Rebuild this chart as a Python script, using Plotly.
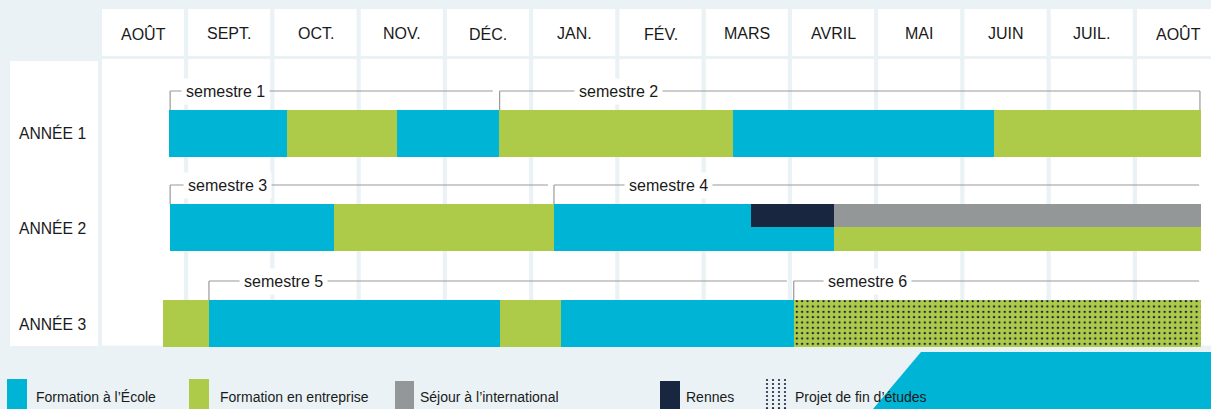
import plotly.graph_objects as go

# ---------------- data ----------------
months = ["AOÛT", "SEPT.", "OCT.", "NOV.", "DÉC.", "JAN.", "FÉV.", "MARS",
          "AVRIL", "MAI", "JUIN", "JUIL.", "AOÛT"]
years = ["ANNÉE 1", "ANNÉE 2", "ANNÉE 3"]
categories = ["Formation à l’École", "Formation en entreprise",
              "Séjour à l’international", "Rennes", "Projet de fin d’études"]

# segments, in months elapsed since 1st August (0 = start of the first AOÛT column)
seg_year = ["ANNÉE 1"] * 6 + ["ANNÉE 2"] * 7 + ["ANNÉE 3"] * 5
seg_cat = ["Formation à l’École", "Formation en entreprise", "Formation à l’École",
           "Formation en entreprise", "Formation à l’École", "Formation en entreprise",
           "Formation à l’École", "Formation en entreprise", "Formation à l’École",
           "Rennes", "Formation à l’École", "Séjour à l’international", "Formation en entreprise",
           "Formation en entreprise", "Formation à l’École", "Formation en entreprise",
           "Formation à l’École", "Projet de fin d’études"]
seg_start = [0.78, 2.15, 3.42, 4.60, 7.32, 10.34,
             0.79, 2.69, 5.24, 7.53, 7.53, 8.49, 8.49,
             0.71, 1.24, 4.61, 5.32, 8.02]
seg_end = [2.15, 3.42, 4.60, 7.32, 10.34, 12.74,
           2.69, 5.24, 7.53, 8.49, 8.49, 12.74, 12.74,
           1.24, 4.61, 5.32, 8.02, 12.74]
seg_lane = ["full"] * 6 + ["full", "full", "full", "top", "bottom", "top", "bottom"] + ["full"] * 5

sem_labels = ["semestre 1", "semestre 2", "semestre 3", "semestre 4", "semestre 5", "semestre 6"]
sem_year = ["ANNÉE 1", "ANNÉE 1", "ANNÉE 2", "ANNÉE 2", "ANNÉE 3", "ANNÉE 3"]
sem_start = [0.79, 4.61, 0.79, 5.24, 1.24, 8.02]
sem_end = [4.53, 12.73, 5.17, 12.72, 7.94, 12.72]
sem_text_x = [1.43, 5.99, 1.45, 6.57, 2.10, 8.87]
sem_closed = [False, True, False, False, False, False]

# ---------------- styling / layout ----------------
W, H = 1211, 409
BG = "#EAF2F5"
COLORS = {"Formation à l’École": "#00B4D5", "Formation en entreprise": "#AECA49",
          "Séjour à l’international": "#939797", "Rennes": "#182640",
          "Projet de fin d’études": "#AECA49"}
NAVY = "#182640"
TXT = "#1a1a1a"
FONT = "Liberation Sans, Arial, Helvetica, sans-serif"
X0PX, PITCH, CELL = 102.0, 86.25, 82.0
ROW_TOP = {"ANNÉE 1": 110.0, "ANNÉE 2": 204.0, "ANNÉE 3": 300.0}
ROW_LABEL_Y = {"ANNÉE 1": 132.5, "ANNÉE 2": 228, "ANNÉE 3": 324}
BAR_H = 46.7
LINE = "#9a9a9a"

fig = go.Figure()

# bars
for cat in categories:
    base, length, yc, wd = [], [], [], []
    for yr, c, s, e, lane in zip(seg_year, seg_cat, seg_start, seg_end, seg_lane):
        if c != cat:
            continue
        top = ROW_TOP[yr]
        if lane == "full":
            yc.append(top + BAR_H / 2); wd.append(BAR_H)
        elif lane == "top":
            yc.append(top + BAR_H / 4); wd.append(BAR_H / 2)
        else:
            yc.append(top + 3 * BAR_H / 4); wd.append(BAR_H / 2)
        base.append(s); length.append(e - s)
    marker = dict(color=COLORS[cat], line=dict(width=0))
    if cat == "Projet de fin d’études":
        marker["pattern"] = dict(shape=".", fgcolor=NAVY, bgcolor=COLORS[cat],
                                 size=5.33, solidity=0.16, fillmode="replace")
    fig.add_trace(go.Bar(orientation="h", base=base, x=length, y=yc, width=wd,
                         marker=marker, name=cat, showlegend=False, hoverinfo="skip"))

shapes = []
annotations = []

# header & column cells
for m, lab in enumerate(months):
    shapes.append(dict(type="rect", xref="x", yref="y", x0=m, x1=m + CELL / PITCH,
                       y0=9, y1=56, fillcolor="white", line=dict(width=0), layer="below"))
    shapes.append(dict(type="rect", xref="x", yref="y", x0=m, x1=m + CELL / PITCH,
                       y0=59, y1=345.5, fillcolor="white", line=dict(width=0), layer="below"))
    annotations.append(dict(x=m + CELL / PITCH / 2, y=33.5, xref="x", yref="y", text=lab,
                            showarrow=False, font=dict(size=16, color=TXT, family=FONT)))

# left label column
shapes.append(dict(type="rect", xref="x2", yref="y", x0=10, x1=98, y0=61, y1=346,
                   fillcolor="white", line=dict(width=0), layer="below"))
for yr in years:
    annotations.append(dict(x=17, y=ROW_LABEL_Y[yr], xref="x2", yref="y", text=yr,
                            showarrow=False, xanchor="left",
                            font=dict(size=15.7, color=TXT, family=FONT)))

# semester brackets
for lab, yr, s, e, tx, closed in zip(sem_labels, sem_year, sem_start, sem_end, sem_text_x, sem_closed):
    top = ROW_TOP[yr]
    ly = top - 19
    shapes.append(dict(type="line", xref="x", yref="y", x0=s, x1=e, y0=ly, y1=ly,
                       line=dict(color=LINE, width=1.2), layer="below"))
    shapes.append(dict(type="line", xref="x", yref="y", x0=s, x1=s, y0=ly, y1=top,
                       line=dict(color=LINE, width=1.2), layer="below"))
    if closed:
        shapes.append(dict(type="line", xref="x", yref="y", x0=e, x1=e, y0=ly, y1=top,
                           line=dict(color=LINE, width=1.2), layer="below"))
    annotations.append(dict(x=tx, y=ly + 0.5, xref="x", yref="y", text=lab, showarrow=False,
                            bgcolor="white", borderpad=4,
                            font=dict(size=16, color=TXT, family=FONT)))

# decorative cyan corner
shapes.append(dict(type="path", xref="x2", yref="y",
                   path="M921,352 L1211,352 L1211,409 L873,409 Z",
                   fillcolor="#00B4D5", line=dict(width=0), layer="below"))

# legend
leg_sq = [(7, 27, 379), (189, 209, 379), (395, 414, 381), (660, 680, 381)]
leg_tx = [34, 218, 418, 684, 793]
for (x0, x1, y0), cat in zip(leg_sq, categories[:4]):
    shapes.append(dict(type="rect", xref="x2", yref="y", x0=x0, x1=x1, y0=y0, y1=409,
                       fillcolor=COLORS[cat], line=dict(width=0), layer="above"))
for xt, cat in zip(leg_tx, categories):
    annotations.append(dict(x=xt, y=397, xref="x2", yref="y", text=cat, showarrow=False,
                            xanchor="left", font=dict(size=14, color=TXT, family=FONT)))
dx, dy = [], []
for cx in [767, 773, 779, 785]:
    for cy in [380, 384, 388, 392, 396, 400, 404, 408]:
        dx.append(cx); dy.append(cy)
fig.add_trace(go.Scatter(x=dx, y=dy, xaxis="x2", yaxis="y", mode="markers",
                         marker=dict(size=2.2, color=NAVY, line=dict(width=0)),
                         showlegend=False, hoverinfo="skip"))

fig.update_layout(
    width=W, height=H, autosize=False, margin=dict(l=0, r=0, t=0, b=0),
    paper_bgcolor=BG, plot_bgcolor=BG, barmode="overlay", bargap=0,
    showlegend=False, shapes=shapes, annotations=annotations,
    xaxis=dict(range=[-X0PX / PITCH, (W - X0PX) / PITCH], visible=False, fixedrange=True),
    xaxis2=dict(range=[0, W], overlaying="x", visible=False, fixedrange=True),
    yaxis=dict(range=[H, 0], visible=False, fixedrange=True),
    font=dict(family=FONT),
)

fig.write_html("out.html", config={"displayModeBar": False},
               post_script="document.body.style.margin='0';document.body.style.overflow='hidden';")
